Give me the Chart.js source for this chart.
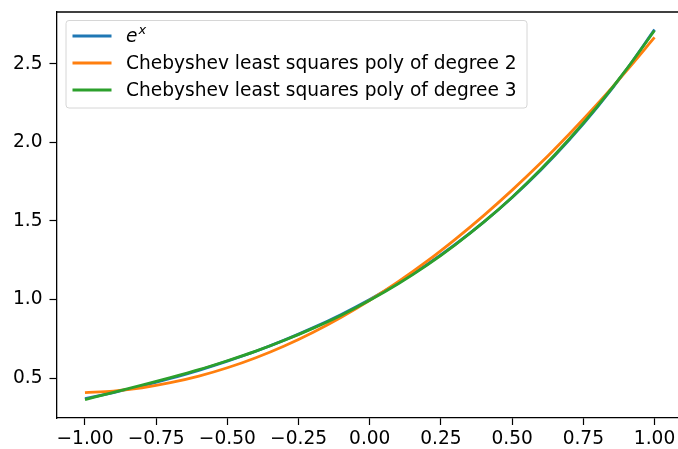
<!DOCTYPE html>
<html>
<head>
<meta charset="utf-8">
<script src="https://cdn.jsdelivr.net/npm/chart.js@4.4.1/dist/chart.umd.min.js"></script>
<style>
  html, body { margin: 0; padding: 0; background: #fff; overflow: hidden; }
  #wrap { width: 678px; height: 449px; overflow: hidden; position: relative; }
  #myChart { display: block; }
</style>
</head>
<body>
<div id="wrap"><canvas id="myChart" width="700" height="449"></canvas></div>
<script>
// sample points along x
const xs = [-1.0, -0.9, -0.8, -0.7, -0.6, -0.5, -0.4, -0.3, -0.2, -0.1, 0.0,
            0.1, 0.2, 0.3, 0.4, 0.5, 0.6, 0.7, 0.8, 0.9, 1.0];
// e^x
const expVals = [0.368, 0.407, 0.449, 0.497, 0.549, 0.607, 0.670, 0.741, 0.819, 0.905, 1.000,
                 1.105, 1.221, 1.350, 1.492, 1.649, 1.822, 2.014, 2.226, 2.460, 2.718];
// degree 2 approximation
const cheb2Vals = [0.407, 0.417, 0.438, 0.470, 0.512, 0.565, 0.629, 0.704, 0.790, 0.887, 0.995,
                   1.113, 1.242, 1.383, 1.534, 1.696, 1.868, 2.052, 2.246, 2.452, 2.668];
// degree 3 approximation
const cheb3Vals = [0.363, 0.408, 0.454, 0.502, 0.553, 0.610, 0.671, 0.740, 0.816, 0.900, 0.995,
                   1.100, 1.217, 1.348, 1.492, 1.651, 1.827, 2.020, 2.231, 2.461, 2.712];
const seriesNames = ['e^x', 'Chebyshev least squares poly of degree 2', 'Chebyshev least squares poly of degree 3'];
const seriesColors = ['#1f77b4', '#ff7f0e', '#2ca02c'];
const xTicks = [-1.0, -0.75, -0.5, -0.25, 0.0, 0.25, 0.5, 0.75, 1.0];
const yTicks = [0.5, 1.0, 1.5, 2.0, 2.5];

const FONT = 'DejaVu Sans';
const FS = 18.6;

const toPoints = (vals) => xs.map((x, i) => ({ x: x, y: vals[i] }));
const fmtMinus = (s) => s.replace('-', '\u2212');

// top spine (left and bottom come from the axis borders)
const frame = {
  id: 'frame',
  afterDatasetsDraw(chart) {
    const { ctx, chartArea: a } = chart;
    ctx.save();
    ctx.strokeStyle = '#000';
    ctx.lineWidth = 1.3;
    ctx.beginPath();
    ctx.moveTo(a.left, a.top);
    ctx.lineTo(a.right, a.top);
    ctx.stroke();
    ctx.restore();
  }
};

// legend box in the upper left
const legendBox = {
  id: 'legendBox',
  afterDraw(chart) {
    const ctx = chart.ctx;
    const x0 = 66, y0 = 20.5, w = 461, h = 87.5, r = 3;
    ctx.save();
    ctx.beginPath();
    ctx.roundRect(x0, y0, w, h, r);
    ctx.fillStyle = 'rgba(255,255,255,0.8)';
    ctx.fill();
    ctx.strokeStyle = '#d6d6d6';
    ctx.lineWidth = 1;
    ctx.stroke();

    const rows = [36, 63, 90];
    seriesNames.forEach((name, i) => {
      const y = rows[i];
      ctx.beginPath();
      ctx.moveTo(72.5, y);
      ctx.lineTo(111.5, y);
      ctx.strokeStyle = seriesColors[i];
      ctx.lineWidth = 2.8;
      ctx.stroke();
      ctx.fillStyle = '#000';
      ctx.textBaseline = 'middle';
      if (i === 0) {
        ctx.font = 'italic ' + FS + 'px "' + FONT + '"';
        ctx.fillText('e', 126, y + 1);
        const ew = ctx.measureText('e').width;
        ctx.font = 'italic ' + Math.round(FS * 0.7) + 'px "' + FONT + '"';
        ctx.fillText('x', 126 + ew + 1, y - 5);
      } else {
        ctx.font = FS + 'px "' + FONT + '"';
        ctx.fillText(name, 126, y + 1);
      }
    });
    ctx.restore();
  }
};

const datasets = [expVals, cheb2Vals, cheb3Vals].map((vals, i) => ({
  label: seriesNames[i],
  data: toPoints(vals),
  borderColor: seriesColors[i],
  backgroundColor: seriesColors[i],
  borderWidth: 2.8,
  pointRadius: 0,
  cubicInterpolationMode: 'monotone',
  fill: false,
  order: 3 - i
}));

const chartDOM = document.getElementById('myChart');
const chart = new Chart(chartDOM, {
  type: 'line',
  data: { datasets: datasets },
  options: {
    responsive: false,
    animation: false,
    layout: { padding: { left: 0, right: 17, top: 12, bottom: 0 } },
    plugins: { legend: { display: false }, tooltip: { enabled: false } },
    scales: {
      x: {
        type: 'linear',
        min: -1.1,
        max: 1.1,
        afterBuildTicks: (scale) => { scale.ticks = xTicks.map(v => ({ value: v })); },
        afterFit: (scale) => { scale.height = 31; },
        grid: { drawOnChartArea: false, tickLength: 7, tickColor: '#000', tickWidth: 1.2 },
        border: { display: true, color: '#000', width: 1.3 },
        ticks: {
          padding: 3,
          color: '#000',
          font: { family: FONT, size: FS },
          maxRotation: 0,
          autoSkip: false,
          callback: (v) => fmtMinus(Number(v).toFixed(2))
        }
      },
      y: {
        type: 'linear',
        min: 0.2454,
        max: 2.8298,
        afterBuildTicks: (scale) => { scale.ticks = yTicks.map(v => ({ value: v })); },
        afterFit: (scale) => {
          scale.width = 56.5;
          scale.paddingTop = 0;
          scale.paddingBottom = 0;
        },
        grid: { drawOnChartArea: false, tickLength: 7, tickColor: '#000', tickWidth: 1.2 },
        border: { display: true, color: '#000', width: 1.3 },
        ticks: {
          padding: 7,
          color: '#000',
          font: { family: FONT, size: FS },
          autoSkip: false,
          callback: (v) => Number(v).toFixed(1)
        }
      }
    }
  },
  plugins: [frame, legendBox]
});
</script>
</body>
</html>
